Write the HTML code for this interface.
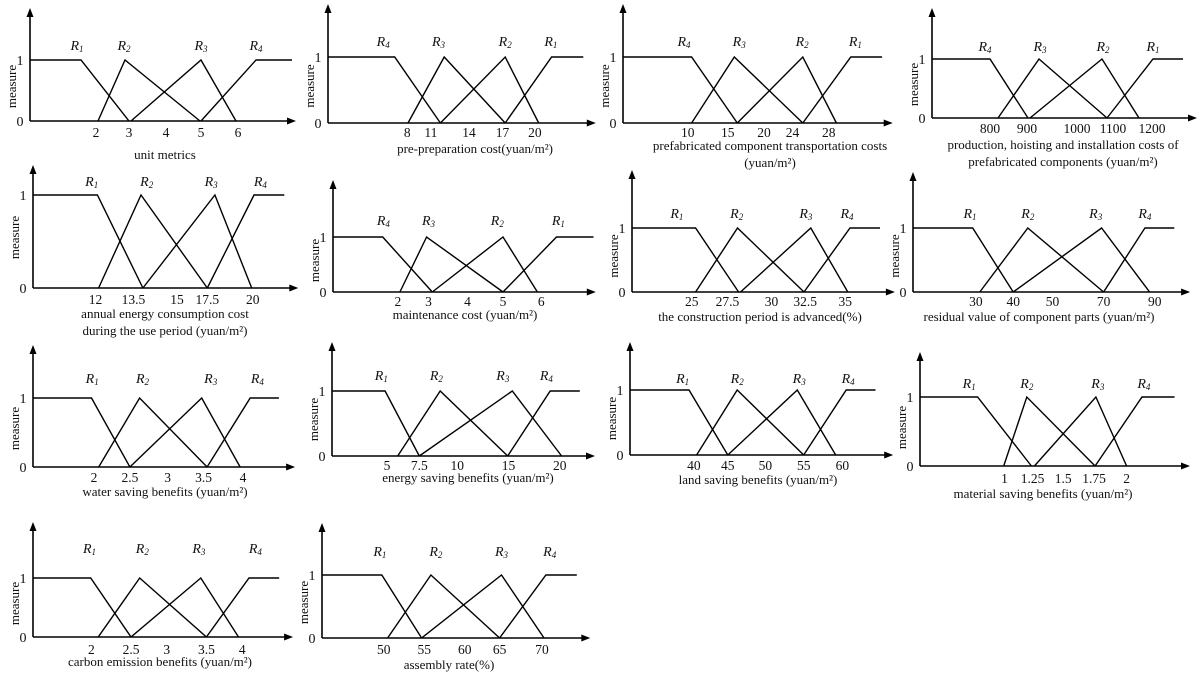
<!DOCTYPE html>
<html><head><meta charset="utf-8"><style>
html,body{margin:0;padding:0;background:#fff;}
svg{display:block;}
text{font-family:"Liberation Serif",serif;fill:#111;}
</style></head><body>
<svg id="s" width="1200" height="679" viewBox="0 0 1200 679" xmlns="http://www.w3.org/2000/svg"></svg>
<script>
var P=[
{ax:30,d0:30,k:1,top:8,base:121,y1:60,end:296,ry:50,ty:137,
 L:[[81,129],[98,125,200],[131,201,236],[201,256,292]],
 T:[["2",96],["3",129],["4",166],["5",201],["6",238]],
 R:[["1",77],["2",124],["3",201],["4",256]],
 lab:[["unit metrics",165,159]]},
{ax:328,d0:75,k:0.381,top:4,base:123,y1:57,end:778,ry:46,ty:137,
 L:[[250,370],[285,380,540],[370,540,628],[540,662,745]],
 T:[["8",283],["11",345],["14",445],["17",533],["20",618]],
 R:[["4",220],["3",365],["2",540],["1",660]],
 lab:[["pre-preparation cost(yuan/m²)",475,153]]},
{ax:623,d0:860,k:0.381,top:4,base:123,y1:57,end:1568,ry:46,ty:137,
 L:[[1040,1160],[1040,1152,1332],[1160,1332,1420],[1332,1458,1540]],
 T:[["10",1030],["15",1135],["20",1230],["24",1305],["28",1400]],
 R:[["4",1020],["3",1165],["2",1330],["1",1470]],
 lab:[["prefabricated component transportation costs",770,150],["(yuan/m²)",770,167]]},
{ax:932,d0:932,k:1,top:8,base:118,y1:59,end:1197,ry:51,ty:133,
 L:[[990,1028],[998,1039,1107],[1030,1102,1139],[1107,1153,1183]],
 T:[["800",990],["900",1027],["1000",1077],["1100",1113],["1200",1152]],
 R:[["4",985],["3",1040],["2",1103],["1",1153]],
 lab:[["production, hoisting and installation costs of",1063,149],["prefabricated components (yuan/m²)",1063,166]]},
{ax:33,d0:75,k:0.379,top:165,base:288,y1:195,end:775,ry:186,ty:304,
 L:[[245,365],[248,360,535],[365,555,652],[535,658,738]],
 T:[["12",240],["13.5",340],["15",455],["17.5",535],["20",655]],
 R:[["1",230],["2",375],["3",545],["4",675]],
 lab:[["annual energy consumption cost",165,318],["during the use period (yuan/m²)",165,335]]},
{ax:333,d0:880,k:0.382,top:180,base:292,y1:237,end:1568,ry:225,ty:306,
 L:[[1010,1140],[1055,1125,1325],[1140,1325,1415],[1325,1465,1562]],
 T:[["2",1050],["3",1130],["4",1232],["5",1325],["6",1425]],
 R:[["4",1012],["3",1130],["2",1310],["1",1470]],
 lab:[["maintenance cost (yuan/m²)",465,319]]},
{ax:632,d0:75,k:0.374,top:170,base:292,y1:228,end:778,ry:218,ty:306,
 L:[[245,360],[245,357,535],[365,553,652],[535,658,738]],
 T:[["25",235],["27.5",330],["30",448],["32.5",538],["35",645]],
 R:[["1",195],["2",355],["3",540],["4",650]],
 lab:[["the construction period is advanced(%)",760,321]]},
{ax:913,d0:860,k:0.393,top:172,base:292,y1:228,end:1565,ry:218,ty:306,
 L:[[1012,1115],[1030,1152,1345],[1115,1340,1462],[1345,1450,1525]],
 T:[["30",1020],["40",1115],["50",1215],["70",1345],["90",1475]],
 R:[["1",1005],["2",1152],["3",1325],["4",1450]],
 lab:[["residual value of component parts (yuan/m²)",1039,321]]},
{ax:33,d0:75,k:0.359,top:345,base:467,y1:398,end:805,ry:383,ty:482,
 L:[[238,345],[258,372,560],[345,545,652],[560,680,760]],
 T:[["2",245],["2.5",345],["3",450],["3.5",550],["4",660]],
 R:[["1",240],["2",380],["3",570],["4",700]],
 lab:[["water saving benefits (yuan/m²)",165,496]]},
{ax:332,d0:875,k:0.3795,top:342,base:456,y1:391,end:1568,ry:380,ty:470,
 L:[[1015,1105],[1048,1160,1338],[1105,1350,1480],[1338,1450,1528]],
 T:[["5",1020],["7.5",1105],["10",1205],["15",1340],["20",1475]],
 R:[["1",1005],["2",1150],["3",1325],["4",1440]],
 lab:[["energy saving benefits (yuan/m²)",468,482]]},
{ax:630,d0:75,k:0.376,top:342,base:455,y1:390,end:775,ry:383,ty:470,
 L:[[232,335],[252,360,537],[335,520,622],[537,650,728]],
 T:[["40",245],["45",335],["50",435],["55",537],["60",640]],
 R:[["1",215],["2",360],["3",525],["4",655]],
 lab:[["land saving benefits (yuan/m²)",758,484]]},
{ax:920,d0:862,k:0.384,top:352,base:466,y1:397,end:1565,ry:388,ty:483,
 L:[[1012,1152],[1080,1140,1318],[1160,1320,1400],[1318,1440,1525]],
 T:[["1",1082],["1.25",1155],["1.5",1235],["1.75",1315],["2",1400]],
 R:[["1",990],["2",1140],["3",1325],["4",1445]],
 lab:[["material saving benefits (yuan/m²)",1043,498]]},
{ax:33,d0:85,k:0.377,top:522,base:637,y1:578,end:775,ry:553,ty:654,
 L:[[238,345],[258,368,545],[345,530,630],[545,658,738]],
 T:[["2",240],["2.5",345],["3",440],["3.5",545],["4",640]],
 R:[["1",235],["2",375],["3",525],["4",675]],
 lab:[["carbon emission benefits (yuan/m²)",160,666]]},
{ax:322,d0:870,k:0.386,top:523,base:638,y1:575,end:1565,ry:556,ty:654,
 L:[[1025,1128],[1040,1152,1330],[1128,1335,1445],[1330,1450,1530]],
 T:[["50",1030],["55",1135],["60",1240],["65",1330],["70",1440]],
 R:[["1",1020],["2",1165],["3",1335],["4",1460]],
 lab:[["assembly rate(%)",449,669]]}
];
var h='';
P.forEach(function(p){
 var X=function(d){return (p.ax+(d-p.d0)*p.k).toFixed(1);};
 var ex=X(p.end), b=p.base, y=p.y1, ax=p.ax;
 h+='<line x1="'+ax+'" y1="'+b+'" x2="'+ax+'" y2="'+(p.top+6)+'" stroke="#000" stroke-width="1.6"/>';
 h+='<polygon points="'+ax+','+p.top+' '+(ax-3.5)+','+(p.top+9)+' '+(ax+3.5)+','+(p.top+9)+'" fill="#000"/>';
 h+='<line x1="'+ax+'" y1="'+b+'" x2="'+(ex-6)+'" y2="'+b+'" stroke="#000" stroke-width="1.6"/>';
 h+='<polygon points="'+ex+','+b+' '+(ex-9)+','+(b-3.5)+' '+(ex-9)+','+(b+3.5)+'" fill="#000"/>';
 var L=p.L;
 var pl=function(pts){h+='<polyline points="'+pts.join(' ')+'" fill="none" stroke="#000" stroke-width="1.4"/>';};
 pl([ax+','+y, X(L[0][0])+','+y, X(L[0][1])+','+b]);
 pl([X(L[1][0])+','+b, X(L[1][1])+','+y, X(L[1][2])+','+b]);
 pl([X(L[2][0])+','+b, X(L[2][1])+','+y, X(L[2][2])+','+b]);
 pl([X(L[3][0])+','+b, X(L[3][1])+','+y, X(L[3][2])+','+y]);
 h+='<text x="'+(ax-10)+'" y="'+(y+5)+'" font-size="14" text-anchor="middle">1</text>';
 h+='<text x="'+(ax-10)+'" y="'+(b+5)+'" font-size="14" text-anchor="middle">0</text>';
 var my=(y+b)/2-4;
 h+='<text transform="translate('+(ax-14)+','+my+') rotate(-90)" font-size="13" text-anchor="middle">measure</text>';
 p.T.forEach(function(t){h+='<text x="'+X(t[1])+'" y="'+p.ty+'" font-size="13.5" text-anchor="middle">'+t[0]+'</text>';});
 p.R.forEach(function(r){h+='<text x="'+X(r[1])+'" y="'+p.ry+'" font-size="14" font-style="italic" text-anchor="middle">R<tspan font-size="9" dy="2">'+r[0]+'</tspan></text>';});
 p.lab.forEach(function(l){h+='<text x="'+l[1]+'" y="'+l[2]+'" font-size="13" text-anchor="middle">'+l[0]+'</text>';});
});
document.getElementById('s').innerHTML=h;
</script>
</body></html>
